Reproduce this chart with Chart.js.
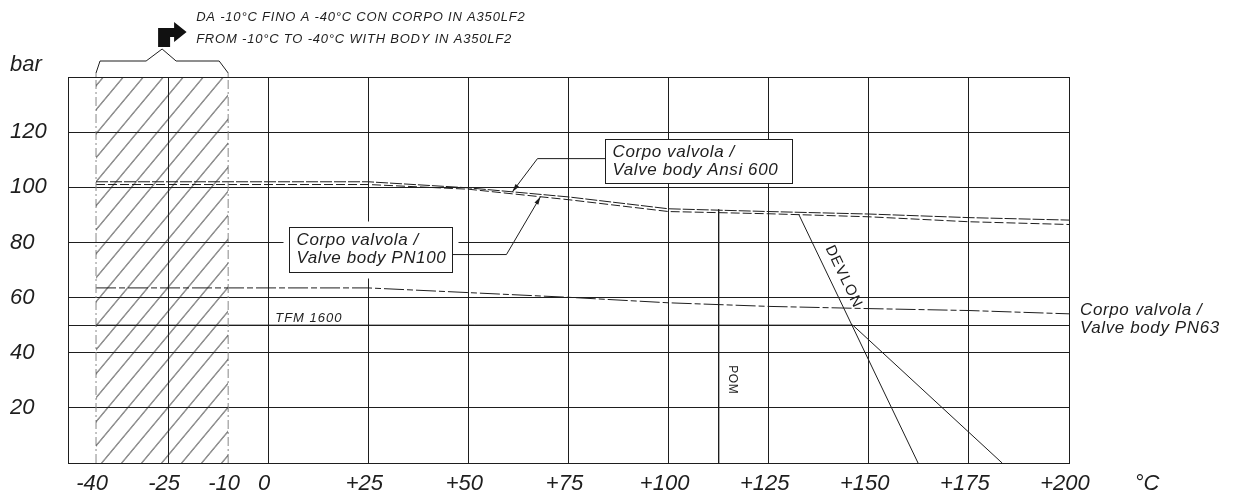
<!DOCTYPE html>
<html>
<head>
<meta charset="utf-8">
<script src="https://cdn.jsdelivr.net/npm/chart.js@4.4.1/dist/chart.umd.min.js"></script>
<style>
	html, body { margin: 0; padding: 0; background: #fff; overflow: hidden; }
	#wrap { width: 1233px; height: 497px; position: relative; }
</style>
</head>
<body>
<div id="wrap"><canvas id="chart"></canvas></div>
<script>
(() => {
	'use strict'

	// Temperatures in °C. On the drawing the "-40" column sits a bit left of true scale (at -43).
	const temps = [-43, 25, 50, 75, 100, 125, 150, 175, 200];

	// Pressure ratings in bar
	const ansi600 = [102, 102, 99.8, 96.5, 92.2, 91.2, 90.3, 89, 88.1];
	const pn100 = [101, 101, 99.3, 95.5, 91.2, 90.4, 89.3, 87.5, 86.5];
	const pn63 = [63.5, 63.5, 61.8, 60.1, 58.1, 56.8, 56, 55.3, 54.1];

	// Seat materials
	const tfmTemps = [-43, 146, 183.3];
	const tfm1600 = [50, 50, 0];
	const devlonTemps = [132.5, 162.3];
	const devlon = [90.2, 0];
	const pomTemps = [112.5, 112.5];
	const pom = [92, 0];

	// Zone from -10 to -40 °C (body in A350LF2)
	const lowTempZone = [-43, -10];
	const lowTempTop = [140, 140];

	// Axes
	const xTicks = [-50, -43, -25, -10, 0, 25, 50, 75, 100, 125, 150, 175, 200];
	const xTickLabels = ['', '-40', '-25', '-10', '0', '+25', '+50', '+75', '+100', '+125', '+150', '+175', '+200'];
	const yTicks = [0, 20, 40, 50, 60, 80, 100, 120, 140];
	const yTickLabels = ['', '20', '40', '', '60', '80', '100', '120', ''];

	const ink = '#1e1e1e';
	const font = '"Liberation Sans", Arial, sans-serif';

	const pts = (xs, ys) => xs.map((x, i) => ({ x: x, y: ys[i] }));

	// Diagonal hatching for the low temperature zone
	function makeHatch() {
		const c = document.createElement('canvas');
		c.width = 20;
		c.height = 24;
		const g = c.getContext('2d');
		g.strokeStyle = '#222';
		g.lineWidth = 1;
		g.beginPath();
		[-20, 0, 20].forEach(dx => {
			g.moveTo(dx, 24);
			g.lineTo(dx + 20, 0);
		});
		g.stroke();
		const p = g.createPattern(c, 'repeat');
		p.setTransform(new DOMMatrix().translate(7.5, 0));
		return p;
	}

	const lineStyle = (data, dash, color) => ({
		data: data,
		borderColor: color || ink,
		borderWidth: 1,
		borderDash: dash || [],
		pointRadius: 0,
		pointHoverRadius: 0,
		tension: 0,
		fill: false
	});

	// Callout boxes: top-left corner in data units, size in px
	const callouts = [
		{ text: ['Corpo valvola /', 'Valve body Ansi 600'], at: [84, 117.5], w: 187, h: 44, side: 'left', elbow: [67.25, 110.4], tip: [61, 98.4], pad: 0 },
		{ text: ['Corpo valvola /', 'Valve body PN100'], at: [5.25, 85.5], w: 163, h: 45, side: 'right', elbow: [59.5, 75.6], tip: [68, 96.6], pad: 6 }
	];

	function arrowHead(ctx, x0, y0, x1, y1) {
		const a = Math.atan2(y1 - y0, x1 - x0);
		const len = 8, half = 2.2;
		ctx.beginPath();
		ctx.moveTo(x1, y1);
		ctx.lineTo(x1 - len * Math.cos(a) + half * Math.sin(a), y1 - len * Math.sin(a) - half * Math.cos(a));
		ctx.lineTo(x1 - len * Math.cos(a) - half * Math.sin(a), y1 - len * Math.sin(a) + half * Math.cos(a));
		ctx.closePath();
		ctx.fill();
	}

	const sketchNotes = {
		id: 'sketchNotes',
		afterDatasetsDraw(chart) {
			const { ctx, chartArea } = chart;
			const xs = chart.scales.x, ys = chart.scales.y;
			const px = v => xs.getPixelForValue(v);
			const py = v => ys.getPixelForValue(v);
			const t = chartArea.top;

			ctx.save();
			ctx.fillStyle = ink;
			ctx.strokeStyle = ink;
			ctx.lineWidth = 1;

			// Callouts
			callouts.forEach(c => {
				const bx = Math.round(px(c.at[0])) + 0.5, by = Math.round(py(c.at[1])) + 0.5;
				ctx.fillStyle = '#fff';
				ctx.fillRect(bx - c.pad, by - c.pad, c.w + 2 * c.pad, c.h + 2 * c.pad);
				ctx.fillStyle = ink;
				ctx.strokeRect(bx, by, c.w, c.h);
				ctx.font = 'italic 17px ' + font;
				ctx.letterSpacing = '0.6px';
				ctx.textAlign = 'left';
				ctx.textBaseline = 'alphabetic';
				ctx.fillText(c.text[0], bx + 7, by + 17);
				ctx.fillText(c.text[1], bx + 7, by + 35);
				const ex = px(c.elbow[0]), ey = py(c.elbow[1]);
				const sx = c.side === 'left' ? bx : bx + c.w;
				const tx = px(c.tip[0]), ty = py(c.tip[1]);
				ctx.beginPath();
				ctx.moveTo(sx, ey);
				ctx.lineTo(ex, ey);
				ctx.lineTo(tx, ty);
				ctx.stroke();
				arrowHead(ctx, ex, ey, tx, ty);
			});

			// PN63 label, right of the grid
			ctx.font = 'italic 17px ' + font;
			ctx.letterSpacing = '0.6px';
			ctx.textAlign = 'left';
			ctx.fillText('Corpo valvola /', px(202.75), py(53.8));
			ctx.fillText('Valve body PN63', px(202.75), py(53.8) + 18);

			// TFM 1600
			ctx.font = 'italic 13px ' + font;
			ctx.letterSpacing = '1px';
			ctx.fillText('TFM 1600', px(1.75), py(51.3));

			// DEVLON, along its line
			const ang = Math.atan2(py(devlon[1]) - py(devlon[0]), px(devlonTemps[1]) - px(devlonTemps[0]));
			ctx.save();
			ctx.translate(px(143.7), py(67.6));
			ctx.rotate(ang);
			ctx.font = '15px ' + font;
			ctx.letterSpacing = '1px';
			ctx.textAlign = 'center';
			ctx.textBaseline = 'middle';
			ctx.fillText('DEVLON', 0, 0);
			ctx.restore();

			// POM
			ctx.save();
			ctx.translate(px(116), py(30.2));
			ctx.rotate(Math.PI / 2);
			ctx.font = '12px ' + font;
			ctx.letterSpacing = '0.5px';
			ctx.textAlign = 'center';
			ctx.textBaseline = 'middle';
			ctx.fillText('POM', 0, 0);
			ctx.restore();

			// Axis units
			ctx.font = 'italic 22px ' + font;
			ctx.letterSpacing = '0px';
			ctx.textAlign = 'left';
			ctx.textBaseline = 'alphabetic';
			ctx.fillText('bar', ys.left, py(142));
			ctx.textAlign = 'center';
			ctx.textBaseline = 'middle';
			ctx.fillText('°C', px(219.5), chartArea.bottom + 21);

			// Bracket over the low temperature zone
			const xl = px(lowTempZone[0]), xr = px(lowTempZone[1]), xm = (xl + xr) / 2;
			ctx.beginPath();
			ctx.moveTo(xl, t - 4);
			ctx.lineTo(xl + 4, t - 16);
			ctx.lineTo(xm - 16, t - 16);
			ctx.lineTo(xm, t - 28);
			ctx.lineTo(xm + 14, t - 16);
			ctx.lineTo(xr - 9, t - 16);
			ctx.lineTo(xr, t - 4);
			ctx.stroke();
			ctx.strokeStyle = '#888';
			ctx.beginPath();
			ctx.moveTo(xl, t - 4); ctx.lineTo(xl, t);
			ctx.moveTo(xr, t - 4); ctx.lineTo(xr, t);
			ctx.stroke();

			// Bent arrow
			ctx.fillStyle = '#111';
			ctx.beginPath();
			ctx.moveTo(xm - 4, t - 30);
			ctx.lineTo(xm + 8, t - 30);
			ctx.lineTo(xm + 8, t - 40);
			ctx.lineTo(xm + 12, t - 40);
			ctx.lineTo(xm + 12, t - 35);
			ctx.lineTo(xm + 24.5, t - 45);
			ctx.lineTo(xm + 12, t - 55);
			ctx.lineTo(xm + 12, t - 49);
			ctx.lineTo(xm - 4, t - 49);
			ctx.closePath();
			ctx.fill();

			// Note about the A350LF2 body
			ctx.fillStyle = ink;
			ctx.font = 'italic 13px ' + font;
			ctx.letterSpacing = '0.8px';
			ctx.textAlign = 'left';
			ctx.textBaseline = 'alphabetic';
			ctx.fillText('DA -10°C FINO A -40°C CON CORPO IN A350LF2', px(-18), t - 56);
			ctx.fillText('FROM -10°C TO -40°C WITH BODY IN A350LF2', px(-18), t - 34);

			ctx.restore();
		}
	};

	const config = {
		type: 'line',
		data: {
			datasets: [
				Object.assign(lineStyle(pts(lowTempZone, lowTempTop)), { borderWidth: 0, fill: 'origin', backgroundColor: makeHatch() }),
				lineStyle(pts([lowTempZone[0], lowTempZone[0]], [0, 140]), [9, 3, 2, 3], '#888'),
				lineStyle(pts([lowTempZone[1], lowTempZone[1]], [0, 140]), [9, 3, 2, 3], '#888'),
				lineStyle(pts(temps, ansi600), [12, 2]),
				lineStyle(pts(temps, pn100), [9, 3]),
				lineStyle(pts(temps, pn63), [20, 3, 6, 3]),
				lineStyle(pts(tfmTemps, tfm1600)),
				lineStyle(pts(devlonTemps, devlon)),
				lineStyle(pts(pomTemps, pom))
			]
		},
		options: {
			responsive: true,
			maintainAspectRatio: false,
			animation: false,
			events: [],
			layout: {
				padding: { top: 77, right: 164, bottom: 0, left: 10 }
			},
			plugins: {
				legend: { display: false },
				tooltip: { enabled: false },
				title: { display: false }
			},
			scales: {
				x: {
					type: 'linear',
					min: -50,
					max: 200,
					afterBuildTicks: s => { s.ticks = xTicks.map(v => ({ value: v })); },
					afterFit: s => { s.height = 34; },
					ticks: {
						autoSkip: false,
						maxRotation: 0,
						padding: 8,
						labelOffset: -4,
						color: ink,
						font: { family: font, size: 22, style: 'italic' },
						callback: v => xTickLabels[xTicks.indexOf(v)]
					},
					grid: {
						drawTicks: false,
						lineWidth: 1,
						color: c => (c.tick && (c.tick.value === lowTempZone[0] || c.tick.value === lowTempZone[1])) ? 'rgba(0,0,0,0)' : ink
					},
					border: { display: true, color: ink }
				},
				y: {
					min: 0,
					max: 140,
					afterBuildTicks: s => { s.ticks = yTicks.map(v => ({ value: v })); },
					afterFit: s => { s.width = 58; },
					ticks: {
						autoSkip: false,
						crossAlign: 'far',
						color: ink,
						font: { family: font, size: 22, style: 'italic' },
						callback: v => yTickLabels[yTicks.indexOf(v)]
					},
					grid: {
						drawTicks: false,
						lineWidth: 1,
						color: ink
					},
					border: { display: true, color: ink }
				}
			}
		},
		plugins: [sketchNotes]
	};

	new Chart(document.getElementById('chart'), config);
})()
</script>
</body>
</html>
